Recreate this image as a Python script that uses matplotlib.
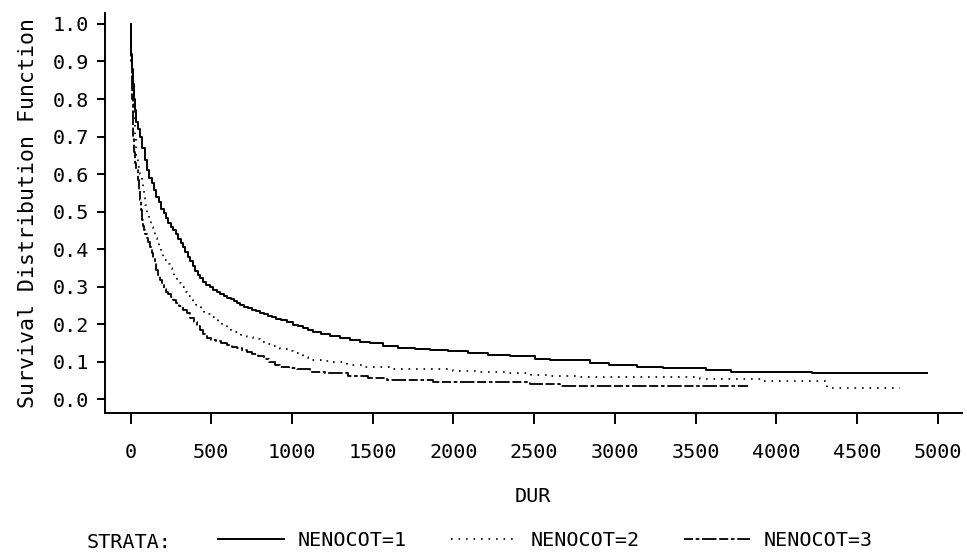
import matplotlib
matplotlib.use("Agg")
import matplotlib.pyplot as plt
import numpy as np

# step points (DUR, survival) for each stratum
dur1 = [0, 3, 6, 10, 15, 20, 27, 35, 45, 59, 72, 90, 100, 115, 131, 145, 160, 175, 190, 205,
        220, 235, 250, 265, 280, 295, 310, 325, 340, 355, 370, 385, 400, 415, 430, 450, 470,
        490, 510, 534, 555, 580, 600, 620, 640, 658, 680, 700, 725, 750, 775, 802, 825, 850,
        875, 900, 930, 967, 1008, 1040, 1070, 1100, 1132, 1180, 1235, 1300, 1359, 1420, 1483,
        1565, 1658, 1760, 1854, 1968, 2092, 2215, 2350, 2505, 2600, 2845, 2965, 3138, 3299,
        3563, 3716, 4222, 4930]
surv1 = [1.0, 0.96, 0.92, 0.88, 0.84, 0.80, 0.77, 0.74, 0.72, 0.70, 0.67, 0.638, 0.61, 0.59,
         0.576, 0.557, 0.54, 0.525, 0.508, 0.495, 0.482, 0.47, 0.46, 0.451, 0.44, 0.427, 0.416,
         0.405, 0.393, 0.38, 0.368, 0.355, 0.343, 0.332, 0.322, 0.313, 0.305, 0.298, 0.292,
         0.287, 0.281, 0.276, 0.271, 0.266, 0.261, 0.256, 0.252, 0.247, 0.243, 0.238, 0.234,
         0.229, 0.226, 0.222, 0.218, 0.214, 0.211, 0.207, 0.199, 0.195, 0.19, 0.185, 0.18,
         0.175, 0.169, 0.163, 0.158, 0.153, 0.149, 0.143, 0.137, 0.134, 0.132, 0.128, 0.123,
         0.118, 0.114, 0.108, 0.105, 0.097, 0.091, 0.086, 0.082, 0.077, 0.074, 0.069, 0.069]

dur2 = [0, 3, 6, 10, 15, 21, 28, 36, 45, 56, 69, 77, 85, 92, 100, 112, 125, 137, 150, 162, 175,
        189, 203, 216, 230, 244, 258, 272, 286, 300, 315, 332, 350, 370, 389, 405, 420, 437,
        455, 473, 492, 515, 540, 568, 596, 623, 650, 685, 720, 760, 800, 835, 870, 900, 926,
        970, 1008, 1040, 1070, 1100, 1132, 1180, 1235, 1339, 1442, 1627, 1999, 2164, 2330,
        2480, 2600, 2763, 3527, 3905, 4314, 4764]
surv2 = [1.0, 0.95, 0.90, 0.85, 0.80, 0.75, 0.70, 0.65, 0.62, 0.60, 0.584, 0.56, 0.54, 0.518,
         0.496, 0.478, 0.46, 0.445, 0.43, 0.417, 0.405, 0.392, 0.38, 0.37, 0.36, 0.349, 0.338,
         0.328, 0.318, 0.309, 0.30, 0.287, 0.275, 0.265, 0.256, 0.25, 0.245, 0.238, 0.232,
         0.226, 0.22, 0.212, 0.205, 0.197, 0.189, 0.183, 0.178, 0.172, 0.167, 0.16, 0.152,
         0.146, 0.141, 0.137, 0.133, 0.128, 0.124, 0.118, 0.113, 0.109, 0.105, 0.102, 0.099,
         0.091, 0.087, 0.081, 0.076, 0.074, 0.069, 0.065, 0.063, 0.060, 0.053, 0.048, 0.030,
         0.030]

dur3 = [0, 2, 4, 7, 10, 14, 18, 23, 29, 36, 48, 54, 59, 64, 69, 77, 85, 92, 100, 110, 121, 130,
        140, 150, 160, 171, 183, 196, 210, 222, 235, 250, 265, 282, 300, 324, 348, 369, 390,
        410, 430, 451, 472, 500, 530, 563, 596, 628, 660, 690, 720, 755, 790, 825, 860, 893,
        926, 980, 1029, 1110, 1204, 1349, 1470, 1586, 1875, 2473, 2659, 3826]
surv3 = [1.0, 0.95, 0.90, 0.85, 0.80, 0.75, 0.70, 0.66, 0.63, 0.61, 0.584, 0.555, 0.53, 0.505,
         0.478, 0.463, 0.45, 0.44, 0.43, 0.418, 0.407, 0.39, 0.375, 0.36, 0.345, 0.331, 0.318,
         0.306, 0.295, 0.287, 0.28, 0.272, 0.265, 0.257, 0.248, 0.238, 0.229, 0.217, 0.205,
         0.195, 0.185, 0.174, 0.163, 0.159, 0.155, 0.15, 0.145, 0.14, 0.136, 0.131, 0.127,
         0.121, 0.115, 0.106, 0.098, 0.092, 0.087, 0.083, 0.080, 0.074, 0.069, 0.063, 0.056,
         0.051, 0.047, 0.041, 0.036, 0.036]

strata = ["NENOCOT=1", "NENOCOT=2", "NENOCOT=3"]
x_ticks = [0, 500, 1000, 1500, 2000, 2500, 3000, 3500, 4000, 4500, 5000]
y_ticks = [0.0, 0.1, 0.2, 0.3, 0.4, 0.5, 0.6, 0.7, 0.8, 0.9, 1.0]

plt.rcParams["font.family"] = ["DejaVu Sans Mono"]
fs = 14.5

fig = plt.figure(figsize=(9.67, 5.52), dpi=100)
ax = fig.add_axes([0.1081, 0.2524, 0.8867, 0.7246])

ax.step(dur1, surv1, where="post", color="black", lw=1.4, label=strata[0])
ax.step(dur2, surv2, where="post", color="black", lw=1.2, linestyle=(0, (1, 3.5)), label=strata[1])
ax.step(dur3, surv3, where="post", color="black", lw=1.3,
        linestyle=(0, (5, 1.5, 2, 1.5, 8, 1.5)), label=strata[2])

ax.set_xlim(-161, 5149)
ax.set_ylim(-0.0357, 1.030)
ax.set_xticks(x_ticks)
ax.set_xticklabels([str(v) for v in x_ticks])
ax.set_yticks(y_ticks)
ax.set_yticklabels(["%.1f" % v for v in y_ticks])

for side in ["top", "right"]:
    ax.spines[side].set_visible(False)
for side in ["left", "bottom"]:
    ax.spines[side].set_linewidth(1.4)

ax.tick_params(axis="x", direction="out", length=8, width=1.4, pad=14, labelsize=fs)
ax.tick_params(axis="y", direction="out", length=6, width=1.4, pad=5, labelsize=fs)

ax.set_xlabel("DUR", fontsize=fs, labelpad=18)
ax.set_ylabel("Survival Distribution Function", fontsize=15.5, labelpad=11)

# legend row along the bottom
fig.text(87 / 967, 4 / 552, "STRATA:", fontsize=fs, ha="left", va="baseline")
fig.legend(loc="center left", bbox_to_anchor=(218 / 967, 11 / 552), ncol=3, frameon=False,
           fontsize=fs, handlelength=3.3, handletextpad=0.65, columnspacing=2.2,
           borderpad=0, borderaxespad=0)

fig.savefig("out.png", dpi=100)
